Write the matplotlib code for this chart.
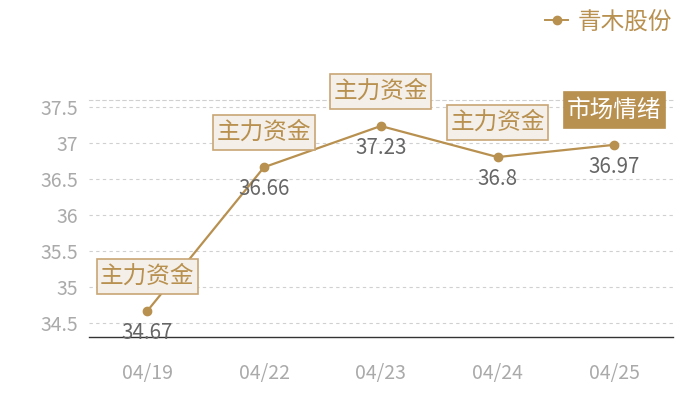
import matplotlib
matplotlib.use("Agg")
import matplotlib.pyplot as plt
from matplotlib.lines import Line2D
from matplotlib.path import Path

plt.rcParams['font.family'] = ['Noto Sans CJK SC', 'DejaVu Sans']

# data
dates = ['04/19', '04/22', '04/23', '04/24', '04/25']
prices = [34.67, 36.66, 37.23, 36.8, 36.97]
tags = ['主力资金', '主力资金', '主力资金', '主力资金', '市场情绪']
tag_filled = [False, False, False, False, True]
series_name = '青木股份'
y_ticks = [34.5, 35, 35.5, 36, 36.5, 37, 37.5]
y_tick_labels = ['34.5', '35', '35.5', '36', '36.5', '37', '37.5']

GOLD = '#b8904f'
GRID = '#d0d0d0'


def tag_box(x0, y0, width, height, mutation_size):
    """Rectangle with a little more padding top/bottom than left/right."""
    px = 0.14 * mutation_size
    py = 0.26 * mutation_size
    x1, y1 = x0 - px, y0 - py
    x2, y2 = x0 + width + px, y0 + height + py
    return Path([(x1, y1), (x2, y1), (x2, y2), (x1, y2), (x1, y1)], closed=True)


fig = plt.figure(figsize=(7, 4), dpi=100)
ax = fig.add_axes([0.127, 0.1575, 0.834, 0.5925])

x = list(range(len(dates)))
ax.plot(x, prices, color=GOLD, lw=1.6, marker='o', ms=6, zorder=3)

# value labels under the points
for xi, v in zip(x, prices):
    ax.annotate(f'{v:g}', (xi, v), xytext=(0, -16), textcoords='offset points',
                ha='center', va='center', fontsize=14.8, color='#666666', zorder=4)

# mark boxes above the points
for xi, v, t, filled in zip(x, prices, tags, tag_filled):
    if filled:
        box = dict(boxstyle=tag_box, fc=GOLD, ec=GOLD, lw=1.2)
        tc = 'white'
    else:
        box = dict(boxstyle=tag_box, fc='#f4efe8', ec='#c9a676', lw=1.2)
        tc = GOLD
    ax.annotate(t, (xi, v), xytext=(0, 25), textcoords='offset points',
                ha='center', va='center', fontsize=17, color=tc, bbox=box, zorder=5)

ax.set_xlim(-0.5, len(dates) - 0.5)
ax.set_ylim(34.31, 37.59)
ax.set_xticks(x)
ax.set_xticklabels(dates)
ax.set_yticks(y_ticks)
ax.set_yticklabels(y_tick_labels)
ax.tick_params(axis='both', length=0, labelsize=14, labelcolor='#aaaaaa')
ax.tick_params(axis='x', pad=19)
ax.tick_params(axis='y', pad=8)

ax.grid(axis='y', color=GRID, ls=(0, (3, 3)), lw=0.8)
ax.set_axisbelow(True)
for s in ['left', 'right']:
    ax.spines[s].set_visible(False)
ax.spines['top'].set_color(GRID)
ax.spines['top'].set_linestyle((0, (3, 3)))
ax.spines['top'].set_linewidth(0.8)
ax.spines['bottom'].set_color('#333333')
ax.spines['bottom'].set_linewidth(1.0)

handle = Line2D([], [], color=GOLD, lw=1.4, marker='o', ms=6)
leg = fig.legend([handle], [series_name], loc='upper right', bbox_to_anchor=(0.99, 1.027),
                 frameon=False, fontsize=17, handlelength=0.95, handletextpad=0.4)
for txt in leg.get_texts():
    txt.set_color(GOLD)

fig.savefig('out.png', dpi=100)
